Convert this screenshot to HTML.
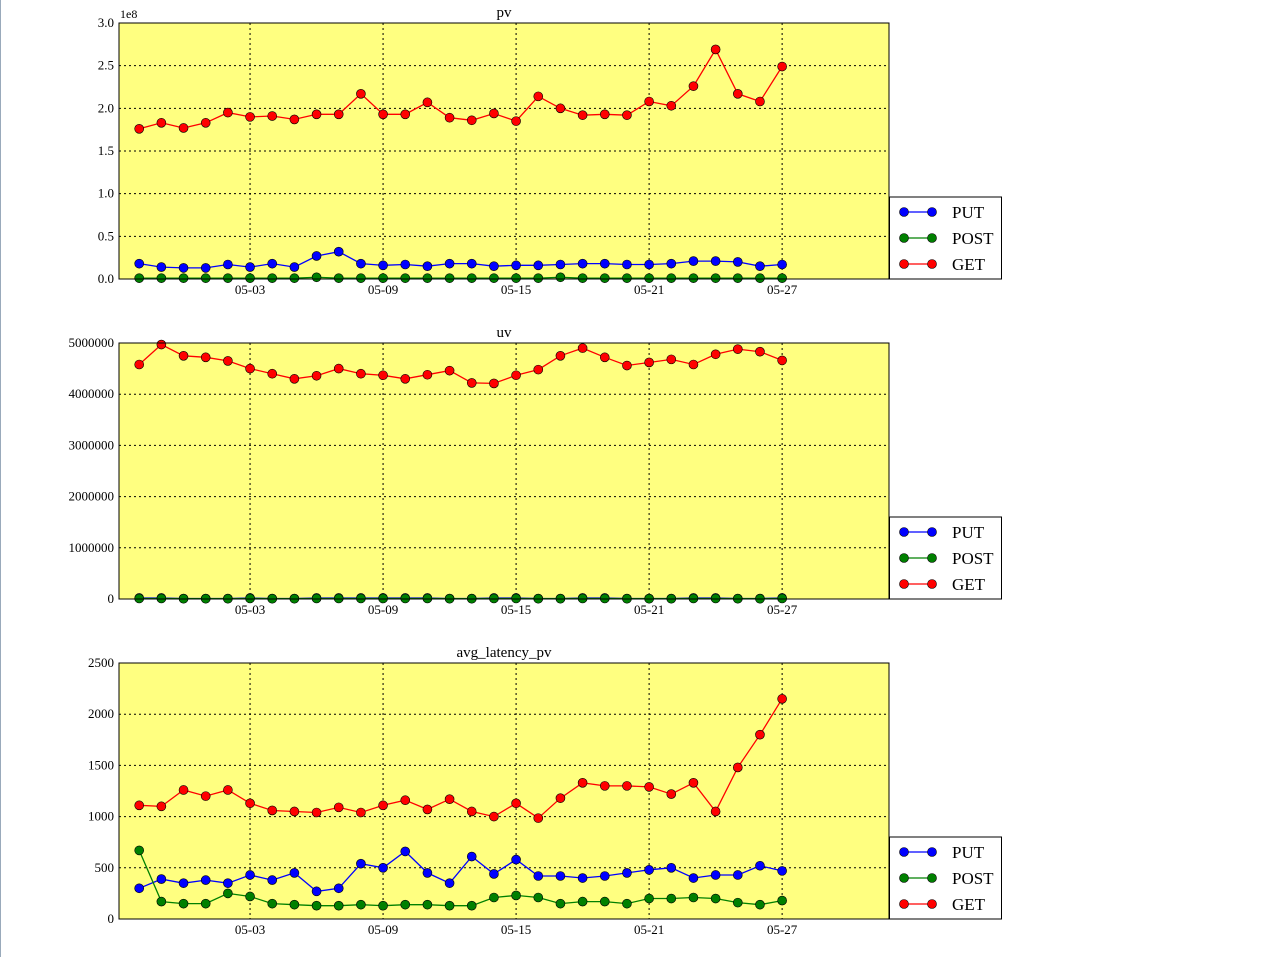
<!DOCTYPE html>
<html><head><meta charset="utf-8"><style>
html,body{margin:0;padding:0;background:#fff;}
body{width:1287px;height:957px;overflow:hidden;position:relative;}
svg{position:absolute;left:0;top:0;}
svg text{font-family:"Liberation Serif","Noto Serif CJK SC",serif;fill:#000;}
</style></head><body>
<svg id="chart" width="1287" height="957" xmlns="http://www.w3.org/2000/svg"><line x1="0.5" y1="0" x2="0.5" y2="957" stroke="#9ab" stroke-width="1"/></svg>
<script>
const dayLabels = ["05-03","05-09","05-15","05-21","05-27"];
const dayLabelIdx = [5,11,17,23,29];
const seriesNames = ["PUT","POST","GET"];
const seriesColors = ["#0000ff","#008000","#ff0000"];
const pvPut = [0.18,0.14,0.13,0.13,0.17,0.14,0.18,0.14,0.27,0.32,0.18,0.16,0.17,0.15,0.18,0.18,0.15,0.16,0.16,0.17,0.18,0.18,0.17,0.17,0.18,0.21,0.21,0.20,0.15,0.17];
const pvPost = [0.01,0.01,0.01,0.01,0.01,0.01,0.01,0.01,0.02,0.01,0.01,0.01,0.01,0.01,0.01,0.01,0.01,0.01,0.01,0.02,0.01,0.01,0.01,0.01,0.01,0.01,0.01,0.01,0.01,0.01];
const pvGet = [1.76,1.83,1.77,1.83,1.95,1.90,1.91,1.87,1.93,1.93,2.17,1.93,1.93,2.07,1.89,1.86,1.94,1.85,2.14,2.00,1.92,1.93,1.92,2.08,2.03,2.26,2.69,2.17,2.08,2.49];
const pvTicks = ["0.0","0.5","1.0","1.5","2.0","2.5","3.0"];
const uvPut = [20000,20000,10000,10000,10000,20000,10000,10000,20000,20000,20000,20000,20000,20000,10000,10000,20000,20000,10000,10000,20000,20000,10000,10000,10000,20000,20000,10000,10000,20000];
const uvPost = [10000,10000,5000,5000,5000,10000,5000,5000,10000,10000,10000,10000,10000,10000,5000,5000,10000,10000,5000,5000,10000,10000,5000,5000,5000,10000,10000,5000,5000,10000];
const uvGet = [4580000,4970000,4750000,4720000,4650000,4500000,4400000,4300000,4360000,4500000,4400000,4370000,4300000,4380000,4460000,4220000,4210000,4370000,4480000,4750000,4900000,4720000,4560000,4620000,4680000,4580000,4780000,4880000,4830000,4660000];
const uvTicks = ["0","1000000","2000000","3000000","4000000","5000000"];
const latPut = [300,390,350,380,350,430,380,450,270,300,540,500,660,450,350,610,440,580,420,420,400,420,450,480,500,400,430,430,520,470];
const latPost = [670,170,150,150,250,220,150,140,130,130,140,130,140,140,130,130,210,230,210,150,170,170,150,200,200,210,200,160,140,180];
const latGet = [1110,1100,1260,1200,1260,1130,1060,1050,1040,1090,1040,1110,1160,1070,1170,1050,1000,1130,985,1180,1330,1300,1300,1290,1220,1330,1050,1480,1800,2150];
const latTicks = ["0","500","1000","1500","2000","2500"];

const NS="http://www.w3.org/2000/svg";
const svg=document.getElementById('chart');
function el(tag,attrs,parent){const e=document.createElementNS(NS,tag);for(const k in attrs)e.setAttribute(k,attrs[k]);(parent||svg).appendChild(e);return e;}
const X0=119,X1=889;
function xScale(i){return 139.2+i*22.17;}

function panel(name,title,top,ymax,tickLabels,tickVals,series,offsetLabel){
  const bot=top+256;
  const g=el('g',{});
  
  
  const y=v=>bot-(v/ymax)*256;
  const bg=el('rect',{x:X0,y:top,width:X1-X0,height:256,fill:'#ffff80'},g);
  
  
  tickVals.forEach((v,k)=>{
    const yy=y(v);
    if(k>0&&k<tickVals.length-1){const l=el('line',{x1:X0,x2:X1,y1:yy,y2:yy,stroke:'#000','stroke-dasharray':'2,3','stroke-width':1},g);
      }
    const t=el('text',{x:114,y:yy+4,'text-anchor':'end','font-size':13},g);
    t.textContent=tickLabels[k];
    
  });
  dayLabelIdx.forEach((d,k)=>{
    const xx=xScale(d);
    const l=el('line',{x1:xx,x2:xx,y1:top,y2:bot,stroke:'#000','stroke-dasharray':'2,3','stroke-width':1},g);
    
    const t=el('text',{x:xx,y:bot+15,'text-anchor':'middle','font-size':13},g);
    t.textContent=dayLabels[k];
    
  });
  const tt=el('text',{x:504,y:top-6,'text-anchor':'middle','font-size':15},g);
  tt.textContent=title;
  
  if(offsetLabel){const o=el('text',{x:120,y:top-5,'font-size':12},g);o.textContent=offsetLabel;
    }
  series.forEach((s,si)=>{
    const pts=s.map((v,i)=>xScale(i).toFixed(1)+','+y(v).toFixed(1)).join(' ');
    const pl=el('polyline',{points:pts,fill:'none',stroke:seriesColors[si],'stroke-width':1.3},g);
    
    
    s.forEach((v,i)=>{
      const c=el('circle',{cx:xScale(i),cy:y(v),r:4.5,fill:seriesColors[si],stroke:'#000','stroke-width':0.6},g);
      
      
    });
  });
  const fr=el('rect',{x:X0,y:top,width:X1-X0,height:256,fill:'none',stroke:'#000','stroke-width':1},g);
  
  const lg=el('g',{},g);
  
  el('rect',{x:889.5,y:bot-82,width:112,height:82,fill:'#fff',stroke:'#000','stroke-width':1},lg);
  seriesNames.forEach((n,si)=>{
    const yy=bot-67+si*26;
    const e=el('g',{},lg);
    
    el('line',{x1:904,x2:932,y1:yy,y2:yy,stroke:seriesColors[si],'stroke-width':1.3},e);
    el('circle',{cx:904,cy:yy,r:4.5,fill:seriesColors[si],stroke:'#000','stroke-width':0.6},e);
    el('circle',{cx:932,cy:yy,r:4.5,fill:seriesColors[si],stroke:'#000','stroke-width':0.6},e);
    const t=el('text',{x:952,y:yy+6,'font-size':17},e);t.textContent=n;
  });
}
panel('pv','pv',23,3.0,pvTicks,[0,0.5,1,1.5,2,2.5,3],[pvPut,pvPost,pvGet],'1e8');
panel('uv','uv',343,5000000,uvTicks,[0,1e6,2e6,3e6,4e6,5e6],[uvPut,uvPost,uvGet],null);
panel('latency','avg_latency_pv',663,2500,latTicks,[0,500,1000,1500,2000,2500],[latPut,latPost,latGet],null);
</script>
</body></html>
